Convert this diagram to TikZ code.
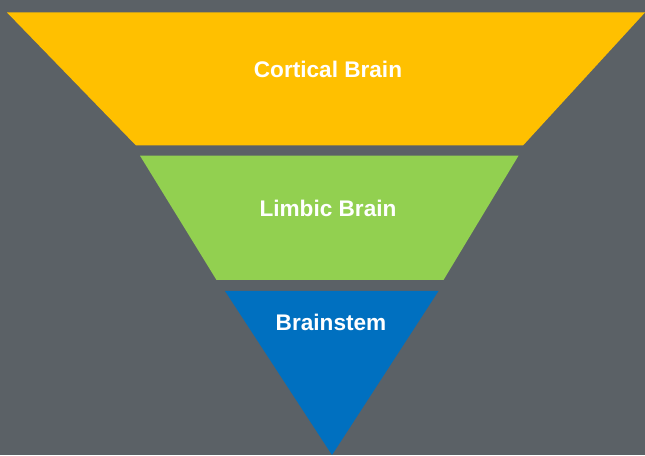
\documentclass[tikz,border=0pt]{standalone}
\usepackage{fontspec}
\setmainfont{Liberation Sans}
\definecolor{bggray}{RGB}{91,97,102}
\definecolor{tieryellow}{RGB}{255,192,0}
\definecolor{tiergreen}{RGB}{146,208,80}
\definecolor{tierblue}{RGB}{0,112,192}
\tikzset{
  tierlabel/.style={text=white, font=\fontsize{22.6}{26}\selectfont\bfseries, inner sep=0pt, anchor=center},
}
\begin{document}
\begin{tikzpicture}[x=1pt,y=1pt]
  % canvas
  \fill[bggray] (0,0) rectangle (645,455);
  \useasboundingbox (0,0) rectangle (645,455);
  % funnel tiers (y measured upward from the bottom edge)
  \fill[tieryellow] (7,442.5) -- (645,442.5) -- (523,309.5) -- (136,309.5) -- cycle;
  \fill[tiergreen] (140,299.3) -- (518.5,299.3) -- (443.5,175) -- (216.5,175) -- cycle;
  \fill[tierblue] (225,164) -- (438.5,164) -- (332,0) -- cycle;
  % labels
  \node[tierlabel] (cortical) at (328,386) {Cortical Brain};
  \node[tierlabel] (limbic) at (328,247) {Limbic Brain};
  \node[tierlabel] (stem) at (331,133) {Brainstem};
\end{tikzpicture}
\end{document}
